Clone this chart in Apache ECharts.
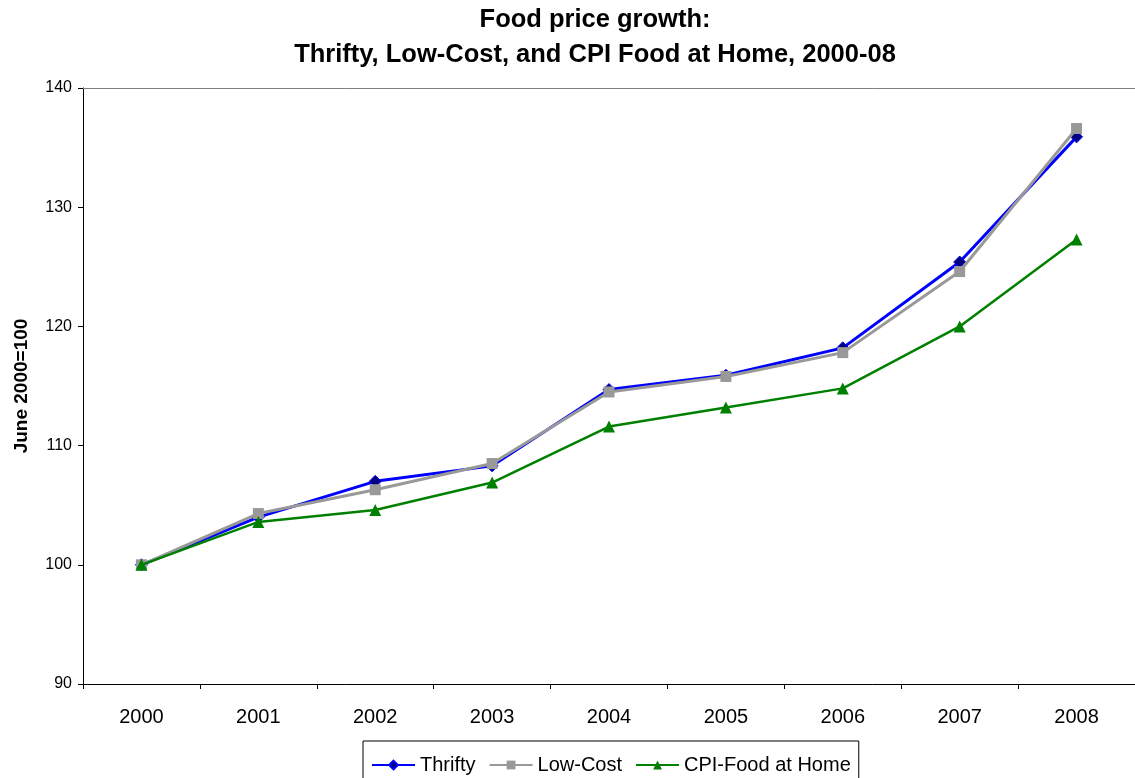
<!DOCTYPE html>
<html>
<head>
<meta charset="utf-8">
<script src="https://cdn.jsdelivr.net/npm/echarts@6/dist/echarts.min.js"></script>
<style>
  html, body { margin: 0; padding: 0; background: #fff; }
  #chart { width: 1135px; height: 778px; }
</style>
</head>
<body>
<div id="chart"></div>
<script>
// Food price indexes, June 2000 = 100
const years = ['2000', '2001', '2002', '2003', '2004', '2005', '2006', '2007', '2008'];
const thrifty = [100, 104.0, 107.0, 108.3, 114.7, 115.9, 118.2, 125.4, 135.9];
const lowCost = [100, 104.3, 106.3, 108.5, 114.5, 115.8, 117.8, 124.6, 136.6];
const cpiFoodAtHome = [100, 103.6, 104.6, 106.9, 111.6, 113.2, 114.8, 120.0, 127.3];

const FONT = '"Liberation Sans", Arial, sans-serif';

const chart = echarts.init(document.getElementById('chart'), null, { renderer: 'canvas' });

chart.setOption({
  backgroundColor: '#ffffff',
  animation: false,
  title: {
    text: 'Food price growth:\nThrifty, Low-Cost, and CPI Food at Home, 2000-08',
    left: 590,
    top: -3,
    textAlign: 'center',
    textStyle: {
      fontFamily: FONT,
      fontSize: 25.5,
      fontWeight: 'bold',
      color: '#000',
      lineHeight: 35
    }
  },
  legend: {
    top: 741,
    left: 363,
    itemWidth: 43,
    itemHeight: 11,
    itemGap: 13,
    padding: [14, 8, 8, 8],
    borderColor: '#000',
    borderWidth: 1,
    textStyle: { fontFamily: FONT, fontSize: 20, color: '#000' },
    data: ['Thrifty', 'Low-Cost', 'CPI-Food at Home']
  },
  grid: { left: 83, right: 0, top: 88, bottom: 94, containLabel: false },
  xAxis: [
    {
      type: 'category',
      data: years,
      boundaryGap: true,
      axisLine: { lineStyle: { color: '#000', width: 1 } },
      axisTick: { show: true, length: 5, inside: false, lineStyle: { color: '#000' } },
      axisLabel: { fontFamily: FONT, fontSize: 20, color: '#000', margin: 23 },
      splitLine: { show: false }
    },
    {
      type: 'category',
      position: 'top',
      data: years,
      axisLine: { lineStyle: { color: '#808080', width: 1 } },
      axisTick: { show: false },
      axisLabel: { show: false },
      splitLine: { show: false }
    }
  ],
  yAxis: {
    type: 'value',
    min: 90,
    max: 140,
    interval: 10,
    name: 'June 2000=100',
    nameLocation: 'middle',
    nameGap: 52,
    nameRotate: 90,
    nameTextStyle: { fontFamily: FONT, fontSize: 19, fontWeight: 'bold', color: '#000' },
    axisLine: { show: true, lineStyle: { color: '#000', width: 1 } },
    axisTick: { show: true, length: 5, lineStyle: { color: '#000' } },
    axisLabel: { fontFamily: FONT, fontSize: 16, color: '#000', margin: 11 },
    splitLine: { show: false }
  },
  series: [
    {
      name: 'Thrifty',
      type: 'line',
      data: thrifty,
      symbol: 'diamond',
      symbolSize: 12,
      lineStyle: { color: '#0000ff', width: 3 },
      itemStyle: { color: '#000080', borderColor: '#0000ff', borderWidth: 1 },
      z: 2
    },
    {
      name: 'Low-Cost',
      type: 'line',
      data: lowCost,
      symbol: 'rect',
      symbolSize: 11,
      lineStyle: { color: '#999999', width: 3 },
      itemStyle: { color: '#999999' },
      z: 3
    },
    {
      name: 'CPI-Food at Home',
      type: 'line',
      data: cpiFoodAtHome,
      symbol: 'triangle',
      symbolSize: 12,
      lineStyle: { color: '#008000', width: 2.5 },
      itemStyle: { color: '#008000' },
      z: 4
    }
  ]
});
</script>
</body>
</html>
